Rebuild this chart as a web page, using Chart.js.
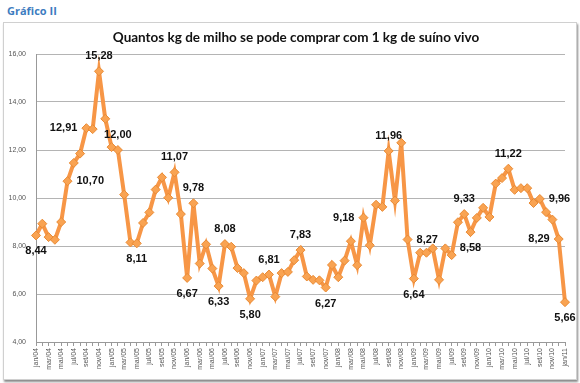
<!DOCTYPE html>
<html>
<head>
<meta charset="utf-8">
<script src="https://cdn.jsdelivr.net/npm/chart.js@4.4.0/dist/chart.umd.min.js"></script>
<style>
  body { margin: 0; background: #fff; width: 580px; height: 383px; position: relative; overflow: hidden; }
  #hdr { position: absolute; left: 7px; top: 3px; font: bold 11px "Open Sans", sans-serif; color: #3d7cc0; }
  #box { position: absolute; left: 3px; top: 22px; width: 572px; height: 356px; border: 1px solid #d0d0d0; box-shadow: 1px 2px 2px #8a8a8a; }
  #ttl { position: absolute; left: 0; width: 592px; top: 29px; text-align: center; font: bold 13.5px Lato, sans-serif; color: #111; z-index: 2; }
  canvas { position: absolute; left: 0; top: 0; }
</style>
</head>
<body>
<div id="hdr">Gráfico II</div>
<div id="box"></div>
<div id="ttl">Quantos kg de milho se pode comprar com 1 kg de suíno vivo</div>
<canvas id="myChart" width="580" height="383"></canvas>
<script>
// categories (monthly, jan/04 .. jan/11)
const months = [
  "jan/04", "fev/04", "mar/04", "abr/04", "mai/04", "jun/04", "jul/04", "ago/04", "set/04", "out/04", "nov/04", "dez/04",
  "jan/05", "fev/05", "mar/05", "abr/05", "mai/05", "jun/05", "jul/05", "ago/05", "set/05", "out/05", "nov/05", "dez/05",
  "jan/06", "fev/06", "mar/06", "abr/06", "mai/06", "jun/06", "jul/06", "ago/06", "set/06", "out/06", "nov/06", "dez/06",
  "jan/07", "fev/07", "mar/07", "abr/07", "mai/07", "jun/07", "jul/07", "ago/07", "set/07", "out/07", "nov/07", "dez/07",
  "jan/08", "fev/08", "mar/08", "abr/08", "mai/08", "jun/08", "jul/08", "ago/08", "set/08", "out/08", "nov/08", "dez/08",
  "jan/09", "fev/09", "mar/09", "abr/09", "mai/09", "jun/09", "jul/09", "ago/09", "set/09", "out/09", "nov/09", "dez/09",
  "jan/10", "fev/10", "mar/10", "abr/10", "mai/10", "jun/10", "jul/10", "ago/10", "set/10", "out/10", "nov/10", "dez/10",
  "jan/11"
];
// kg de milho por kg de suino vivo
const kgMilho = [
  8.44, 8.93, 8.37, 8.26, 9.00, 10.70, 11.46, 11.85, 12.91, 12.87, 15.28, 13.30,
  12.12, 12.00, 10.14, 8.15, 8.11, 8.96, 9.40, 10.35, 10.86, 10.01, 11.07, 9.33,
  6.67, 9.78, 7.27, 8.07, 7.06, 6.33, 8.08, 7.97, 7.08, 6.87, 5.80, 6.56,
  6.70, 6.81, 5.89, 6.87, 6.92, 7.41, 7.83, 6.73, 6.59, 6.57, 6.27, 7.21,
  6.70, 7.39, 8.20, 7.20, 9.18, 8.03, 9.72, 9.63, 11.96, 9.89, 12.30, 8.27,
  6.64, 7.72, 7.72, 7.90, 6.59, 7.90, 7.62, 8.99, 9.33, 8.58, 9.17, 9.59,
  9.21, 10.60, 10.83, 11.22, 10.34, 10.41, 10.41, 9.79, 9.96, 9.41, 9.10, 8.29,
  5.66
];
// points that carry a value label
const labeledIdx = [0, 5, 8, 10, 13, 16, 22, 24, 25, 29, 30, 34, 37, 42, 46, 52, 56, 59, 60, 68, 69, 75, 80, 83, 84];
const yTicks = [4, 6, 8, 10, 12, 14, 16];

const fmt = (v) => v.toFixed(2).replace(".", ",");

// where each label sits relative to its point
const place = { 5: "right", 8: "left", 52: "left", 59: "right", 80: "right", 83: "left",
  0: "below", 16: "below", 24: "below", 29: "below", 34: "below", 46: "below", 60: "below", 69: "below", 84: "below" };

const valueLabels = {
  id: "valueLabels",
  afterDatasetsDraw(chart) {
    const ctx = chart.ctx;
    const pts = chart.getDatasetMeta(0).data;
    ctx.save();
    ctx.font = "bold 11px 'Liberation Sans', Arial, sans-serif";
    ctx.fillStyle = "#111";
    labeledIdx.forEach((i) => {
      const p = pts[i];
      const txt = fmt(kgMilho[i]);
      const pos = place[i] || "above";
      ctx.textBaseline = "middle";
      if (pos === "above") { ctx.textAlign = "center"; ctx.fillText(txt, p.x, p.y - 15); }
      else if (pos === "below") { ctx.textAlign = "center"; ctx.fillText(txt, p.x, p.y + 16); }
      else if (pos === "left") { ctx.textAlign = "right"; ctx.fillText(txt, p.x - 9, p.y); }
      else { ctx.textAlign = "left"; ctx.fillText(txt, p.x + 9, p.y); }
    });
    ctx.restore();
  }
};

const ctx = document.getElementById("myChart");
new Chart(ctx, {
  type: "line",
  data: {
    labels: months,
    datasets: [
      {
        label: "kg de milho",
        data: kgMilho,
        borderColor: "#f79646",
        borderWidth: 4,
        tension: 0,
        pointStyle: "rectRot",
        pointRadius: 4.5,
        pointBackgroundColor: "#f9a352",
        pointBorderColor: "#e98a34",
        pointBorderWidth: 1,
        clip: false,
      },
    ],
  },
  options: {
    responsive: false,
    animation: false,
    layout: { padding: { top: 54, right: 15, bottom: 0, left: 0 } },
    plugins: {
      legend: { display: false },
      tooltip: { enabled: false },
      title: { display: false },
    },
    scales: {
      x: {
        offset: false,
        grid: { drawOnChartArea: false, drawTicks: true, tickLength: 4, color: "#999" },
        border: { color: "#999" },
        ticks: {
          autoSkip: false,
          minRotation: 90,
          maxRotation: 90,
          padding: 2,
          color: "#555",
          font: { family: "Liberation Sans", size: 7 },
          callback: (v, i) => (i % 2 === 0 ? months[i] : ""),
        },
        afterFit(scale) { scale.height = 41; },
      },
      y: {
        min: yTicks[0],
        max: yTicks[yTicks.length - 1],
        grid: { color: "#b4b4b4", drawTicks: false },
        border: { color: "#999" },
        ticks: {
          stepSize: 2,
          padding: 10,
          color: "#555",
          font: { family: "Liberation Sans", size: 7 },
          callback: (v) => fmt(v),
        },
        afterFit(scale) { scale.width = 36; },
      },
    },
  },
  plugins: [valueLabels],
});
</script>
</body>
</html>
